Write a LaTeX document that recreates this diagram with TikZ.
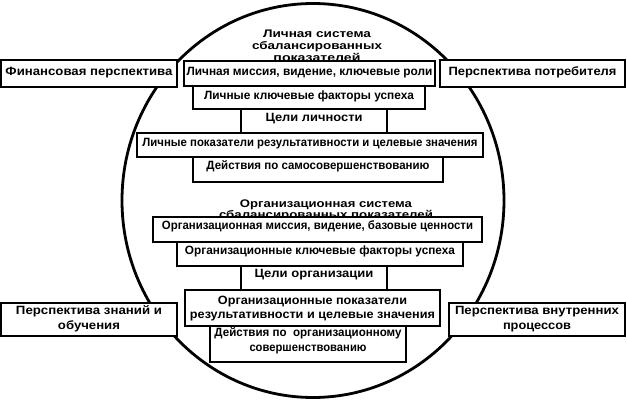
\documentclass[tikz,border=0pt]{standalone}
\usepackage{fontspec}
\usepackage{graphicx}
\setmainfont{Liberation Sans}
\newcommand\fw[2]{\resizebox{#1pt}{\height}{#2}}
\newcommand\twol[4]{\begin{tabular}[t]{@{}c@{}}\fw{#1}{#2}\\\fw{#3}{#4}\end{tabular}}
\begin{document}
\begin{tikzpicture}[x=1pt,y=-1pt,
  box/.style={draw=black,line width=2.2pt,fill=white,inner sep=0pt,
    font=\bfseries\fontsize{12}{14.5}\selectfont,text depth=3pt},
  th/.style={text height=#1pt},
  twoline/.style={text depth=17.5pt},
  ttl/.style={inner sep=0pt,anchor=base,font=\bfseries\fontsize{11}{#1}\selectfont}]
\useasboundingbox (0,0) rectangle (627,400);
\fill[white] (0,0) rectangle (627,400);
\draw[line width=2.8pt] (313,200.5) ellipse [x radius=191, y radius=197];
\node[ttl=12] (t1) at (317,37) {\begin{tabular}[t]{@{}c@{}}\fw{108}{Личная система}\\\fw{130}{сбалансированных}\\\fw{87}{показателей}\end{tabular}};
\node[ttl=11] (t2) at (326,207) {\begin{tabular}[t]{@{}c@{}}\fw{172}{Организационная система}\\\fw{214}{сбалансированных показателей}\end{tabular}};
\node[box,th=6.6,minimum width=176pt,minimum height=27pt] (fin) at (89,73.5) {\fw{167}{Финансовая перспектива}};
\node[box,th=7.6,minimum width=251pt,minimum height=25pt] (mis) at (309.5,73.5) {\fw{246}{Личная миссия, видение, ключевые роли}};
\node[box,th=7.6,minimum width=185pt,minimum height=27pt] (potr) at (532.5,73.5) {\fw{168}{Перспектива потребителя}};
\node[box,th=6.6,minimum width=232pt,minimum height=23pt] (fact) at (309,97.5) {\fw{210}{Личные ключевые факторы успеха}};
\node[box,th=4.6,minimum width=146pt,minimum height=24pt] (celi) at (314,121) {\fw{97}{Цели личности}};
\node[box,th=5.6,minimum width=346pt,minimum height=24pt] (pokaz) at (310,145) {\fw{335}{Личные показатели результативности и целевые значения}};
\node[box,th=2.6,minimum width=250pt,minimum height=25pt] (deyst) at (318,169.5) {\fw{223}{Действия по самосовершенствованию}};
\node[box,th=2.6,minimum width=329pt,minimum height=25pt] (orgmis) at (317.5,229.5) {\fw{311}{Организационная миссия, видение, базовые ценности}};
\node[box,th=3.6,minimum width=286pt,minimum height=24pt] (orgfact) at (320,254) {\fw{270}{Организационные ключевые факторы успеха}};
\node[box,th=1.6,minimum width=146pt,minimum height=24pt] (orgceli) at (314,278) {\fw{119}{Цели организации}};
\node[box,twoline,th=9.6,minimum width=255pt,minimum height=36pt] (orgpok) at (312.5,308) {\twol{189}{Организационные показатели}{245}{результативности и целевые значения}};
\node[box,twoline,th=2.6,minimum width=196pt,minimum height=36pt] (orgdey) at (308,344) {\twol{187}{Действия по\ \ организационному}{117}{совершенствованию}};
\node[box,twoline,th=7.6,minimum width=176pt,minimum height=33pt] (znan) at (89,319.5) {\twol{146}{Перспектива знаний и}{62}{обучения}};
\node[box,twoline,th=7.6,minimum width=176pt,minimum height=33pt] (vnutr) at (537,319.5) {\twol{164}{Перспектива внутренних}{68}{процессов}};
\end{tikzpicture}
\end{document}
